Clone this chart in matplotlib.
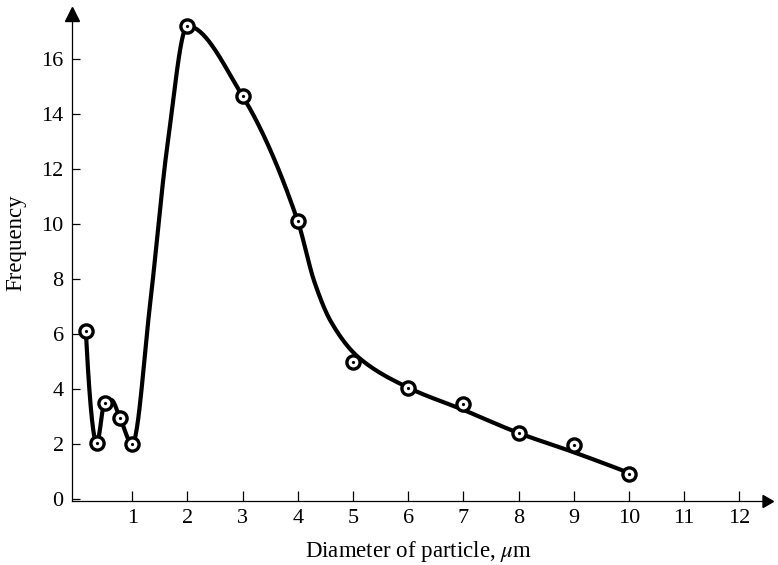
import numpy as np
import matplotlib
matplotlib.use("Agg")
import matplotlib.pyplot as plt

# measured points
pt_x = [0.16, 0.36, 0.5, 0.78, 1.0, 2.0, 3.0, 4.0, 5.0, 6.0, 7.0, 8.0, 9.0, 10.0]
pt_y = [6.1, 2.04, 3.5, 2.95, 2.0, 17.2, 14.65, 10.1, 5.0, 4.04, 3.45, 2.4, 1.95, 0.92]

# smooth drawn curve (knots)
cv_x = [0.16, 0.36, 0.5, 0.62, 0.78, 1.0, 1.33, 1.64, 2.0, 3.0, 4.0, 4.3, 4.6, 5.1, 6.0, 7.0, 8.0, 9.0, 10.0]
cv_y = [6.1, 2.04, 3.5, 3.6, 2.95, 2.0, 7.2, 12.9, 17.2, 14.65, 10.1, 7.9, 6.45, 5.15, 4.05, 3.24, 2.4, 1.7, 0.95]

x_ticks = list(range(1, 13))
y_ticks = list(range(0, 17, 2))


def pchip(xs, ys, n=800):
    x = np.asarray(xs, float)
    y = np.asarray(ys, float)
    h = np.diff(x)
    dlt = np.diff(y) / h
    m = len(x)
    d = np.zeros(m)
    for k in range(1, m - 1):
        if dlt[k - 1] * dlt[k] > 0:
            w1 = 2 * h[k] + h[k - 1]
            w2 = h[k] + 2 * h[k - 1]
            d[k] = (w1 + w2) / (w1 / dlt[k - 1] + w2 / dlt[k])
    def end(h0, h1, d0, d1):
        v = ((2 * h0 + h1) * d0 - h0 * d1) / (h0 + h1)
        if np.sign(v) != np.sign(d0):
            v = 0.0
        elif np.sign(d0) != np.sign(d1) and abs(v) > abs(3 * d0):
            v = 3 * d0
        return v
    d[0] = end(h[0], h[1], dlt[0], dlt[1])
    d[-1] = end(h[-1], h[-2], dlt[-1], dlt[-2])
    xx = np.linspace(x[0], x[-1], n)
    idx = np.clip(np.searchsorted(x, xx) - 1, 0, m - 2)
    t = (xx - x[idx]) / h[idx]
    h00 = 2 * t ** 3 - 3 * t ** 2 + 1
    h10 = t ** 3 - 2 * t ** 2 + t
    h01 = -2 * t ** 3 + 3 * t ** 2
    h11 = t ** 3 - t ** 2
    yy = h00 * y[idx] + h10 * h[idx] * d[idx] + h01 * y[idx + 1] + h11 * h[idx] * d[idx + 1]
    return xx, yy


plt.rcParams['font.family'] = ['Liberation Serif', 'DejaVu Serif']
plt.rcParams['mathtext.fontset'] = 'stix'

fig = plt.figure(figsize=(7.78, 5.65), dpi=100)
L, R, T, B = 72, 766, 14, 501
ax = fig.add_axes([L / 778, (565 - B) / 565, (R - L) / 778, (B - T) / 565])

px_x, px_y = 55.2, 27.5
ax.set_xlim(-(77 - L) / px_x, (R - 77) / px_x)
ax.set_ylim(-(B - 499) / px_y, (499 - T) / px_y)

sx, sy = pchip(cv_x, cv_y)
ax.plot(sx, sy, color='black', lw=3.0, solid_capstyle='round', solid_joinstyle='round', zorder=2)
ax.plot(pt_x, pt_y, 'o', ms=9.5, mfc='white', mec='black', mew=2.4, zorder=3)
ax.plot(pt_x, pt_y, 'o', ms=2.3, mfc='black', mec='black', mew=0, zorder=4)

for s in ['top', 'right']:
    ax.spines[s].set_visible(False)
for s in ['left', 'bottom']:
    ax.spines[s].set_linewidth(0.9)

ax.set_xticks(x_ticks)
ax.set_xticklabels([str(v) for v in x_ticks])
ax.set_yticks(y_ticks)
ax.set_yticklabels([str(v) for v in y_ticks])
ax.tick_params(axis='x', direction='in', length=7, width=0.9, pad=6, labelsize=16)
ax.tick_params(axis='y', direction='in', length=6, width=0.9, pad=6, labelsize=16)

# arrow heads
ax.plot([1], [0], marker=(3, 0, -90), ms=10, color='black', transform=ax.transAxes, clip_on=False)
ax.plot([0], [1], marker='^', ms=10, color='black', transform=ax.transAxes, clip_on=False)

ax.set_xlabel(r'Diameter of particle, $\mu$m', fontsize=16.5, labelpad=8)
ax.set_ylabel('Frequency', fontsize=16.5)
ax.yaxis.set_label_coords(-0.066, (B - 243) / (B - T))

fig.savefig('out.png', dpi=100)
